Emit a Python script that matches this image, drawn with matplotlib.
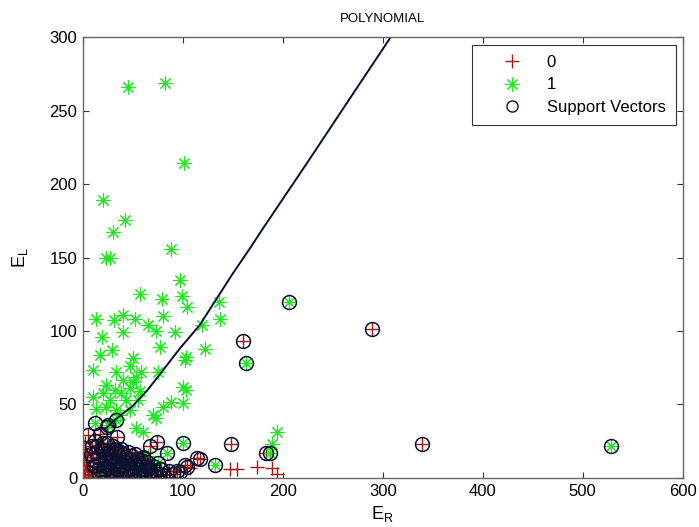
import numpy as np
import matplotlib
matplotlib.use("Agg")
from matplotlib import pyplot as plt
from matplotlib.lines import Line2D

plt.rcParams['font.family'] = ['Liberation Sans', 'DejaVu Sans']

# class 0 points that are support vectors (x = E_R, y = E_L)
sv0_x = [160, 289, 148, 339, 67, 74, 114, 94, 183, 117, 24, 5, 17, 34, 9, 24,
         12, 20, 30, 38, 45, 52, 60, 8, 13, 14, 19, 23, 28, 32, 36, 41, 46, 55,
         17, 21, 22, 26, 27, 31, 35, 40, 44, 50, 64, 16, 25, 30, 34, 39, 43, 48,
         53, 57, 60, 66, 70, 29, 33, 38, 47, 58, 62, 68, 72, 75, 78, 80, 11, 20,
         77, 102, 60, 104,
         10, 15, 18, 26, 29, 33, 37, 42, 49, 54, 58, 63, 13, 21, 27, 36, 44,
         51, 56, 62, 67, 16, 24, 31, 40, 48, 55, 65, 71, 86, 90, 97]
sv0_y = [93.5, 101.5, 23, 23, 22, 24.5, 13.5, 4.5, 17, 13, 35, 29, 30, 28, 22,
         23.6, 25, 24, 22, 20, 18, 16, 14, 16, 18, 22, 19, 17, 19, 17, 15, 16,
         13, 13, 10, 9, 13, 11, 15, 13, 11, 12, 10, 11, 11, 6, 7, 9, 6, 8, 5, 7,
         9, 6, 9, 7, 8, 4, 2, 3, 2, 2, 4, 3, 5, 3, 6, 2, 8, 4, 6, 9, 13.4, 7.7,
         12, 14, 20, 18, 15, 20, 18, 14, 15, 11, 12, 8, 8, 6, 5, 8, 7, 4, 4, 6,
         5, 3, 2, 3, 4, 4, 2, 2, 2, 5, 3, 4]

# class 0 points that are not support vectors
c0_x = [107, 147, 154, 174, 189, 194, 2, 1, 2, 3, 4, 5, 6, 7, 10, 15, 24, 33,
        12, 20, 8, 3, 1, 6, 2, 4, 9, 18, 28, 40, 50]
c0_y = [6.5, 6, 6, 7.7, 6.6, 3, 20, 2, 5, 9, 14, 1, 6, 11, 3, 1, 2, 1, 0.5,
        0.5, 0.8, 17, 12, 3, 24, 8, 1, 0.5, 0.5, 0.8, 0.5]

# class 1 points that are support vectors
sv1_x = [12, 84, 75, 100, 132, 187, 206, 163, 528, 25, 33]
sv1_y = [37.6, 17, 10, 24, 9, 17, 120, 78, 22, 36, 39.5]

# class 1 points that are not support vectors
c1_x = [45, 82, 101, 20, 42, 30, 88, 23, 27, 97, 57, 79, 99, 104, 136, 13, 31,
        40, 52, 80, 65, 73, 40, 92, 119, 137, 19, 77, 122, 29, 17, 50, 103, 102,
        10, 33, 47, 58, 75, 53, 40, 50, 23, 32, 47, 57, 20, 38, 10, 27, 43, 55,
        100, 103, 88, 100, 80, 13, 33, 23, 47, 70, 37, 73, 53, 60, 194, 189,
        30, 45, 55, 20, 65, 40]
c1_y = [266, 268.5, 214, 189, 175.5, 167.5, 156, 150, 150, 135, 125, 122, 124,
        116, 120, 108, 107.5, 111, 108, 110, 104, 100, 99.5, 99.5, 104, 108,
        95.7, 89, 87.5, 87, 84, 81.4, 82, 80, 73.5, 72, 76, 72, 72, 69, 67,
        65.5, 63, 60, 61, 59, 57.6, 57.6, 55, 53, 53, 53, 62, 60, 52, 51, 48.5,
        47, 46, 48.5, 46, 43, 43, 40.6, 34, 31.5, 31, 23, 8, 12, 5, 3, 15, 18]

# decision boundary
bnd_x = [22, 33, 50, 65, 80, 97, 117, 133, 150, 168, 180, 226, 265, 312]
bnd_y = [33, 40, 49, 60, 73, 88, 104, 121, 139, 157, 169.5, 216, 256, 304]

fig = plt.figure(figsize=(6.99, 5.27), dpi=100)
ax = fig.add_axes([0.1183, 0.093, 0.8584, 0.8367])

red = '#B01818'
green = '#1EE61E'
ast = (8, 2, 0)

ax.plot(c0_x + sv0_x, c0_y + sv0_y, '+', color=red, ms=10, mew=1.0, ls='none')
ax.plot(c1_x + sv1_x, c1_y + sv1_y, marker=ast, color=green, ms=10, mew=0.8,
        ls='none')
ax.plot(sv0_x + sv1_x, sv0_y + sv1_y, 'o', mfc='none', mec='#0A1230', ms=10,
        mew=1.1, ls='none')
ax.plot(bnd_x, bnd_y, '-', color='#2A4A8A', lw=1.5)
ax.plot(bnd_x, bnd_y, '-', color='black', lw=0.8)

ax.set_xlim(0, 600)
ax.set_ylim(0, 300)
ax.set_xticks(np.arange(0, 601, 100))
ax.set_yticks(np.arange(0, 301, 50))
ax.tick_params(direction='in', length=4, top=True, right=True, labelsize=12,
               color='#333333', pad=4)
for s in ax.spines.values():
    s.set_color('#666666')
    s.set_linewidth(1.0)

ax.set_title('POLYNOMIAL', fontsize=9.5, pad=11)
ax.set_xlabel('E$_\\mathregular{R}$', fontsize=13, labelpad=4)
ax.set_ylabel('E$_\\mathregular{L}$', fontsize=13, labelpad=14)

handles = [
    Line2D([], [], marker='+', color=red, ms=10, mew=1.0, ls='none'),
    Line2D([], [], marker=ast, color=green, ms=10, mew=0.8, ls='none'),
    Line2D([], [], marker='o', mfc='none', mec='#0A1230', ms=8, mew=1.0,
           ls='none'),
]
leg = ax.legend(handles, ['0', '1', 'Support Vectors'], loc='upper right',
                bbox_to_anchor=(0.988, 0.982), borderaxespad=0, fontsize=12,
                fancybox=False, framealpha=1, edgecolor='#333333',
                handletextpad=0.2, labelspacing=0.45, borderpad=0.6,
                handlelength=3.7)
leg.get_frame().set_linewidth(0.8)

fig.savefig('out.png', dpi=100)
